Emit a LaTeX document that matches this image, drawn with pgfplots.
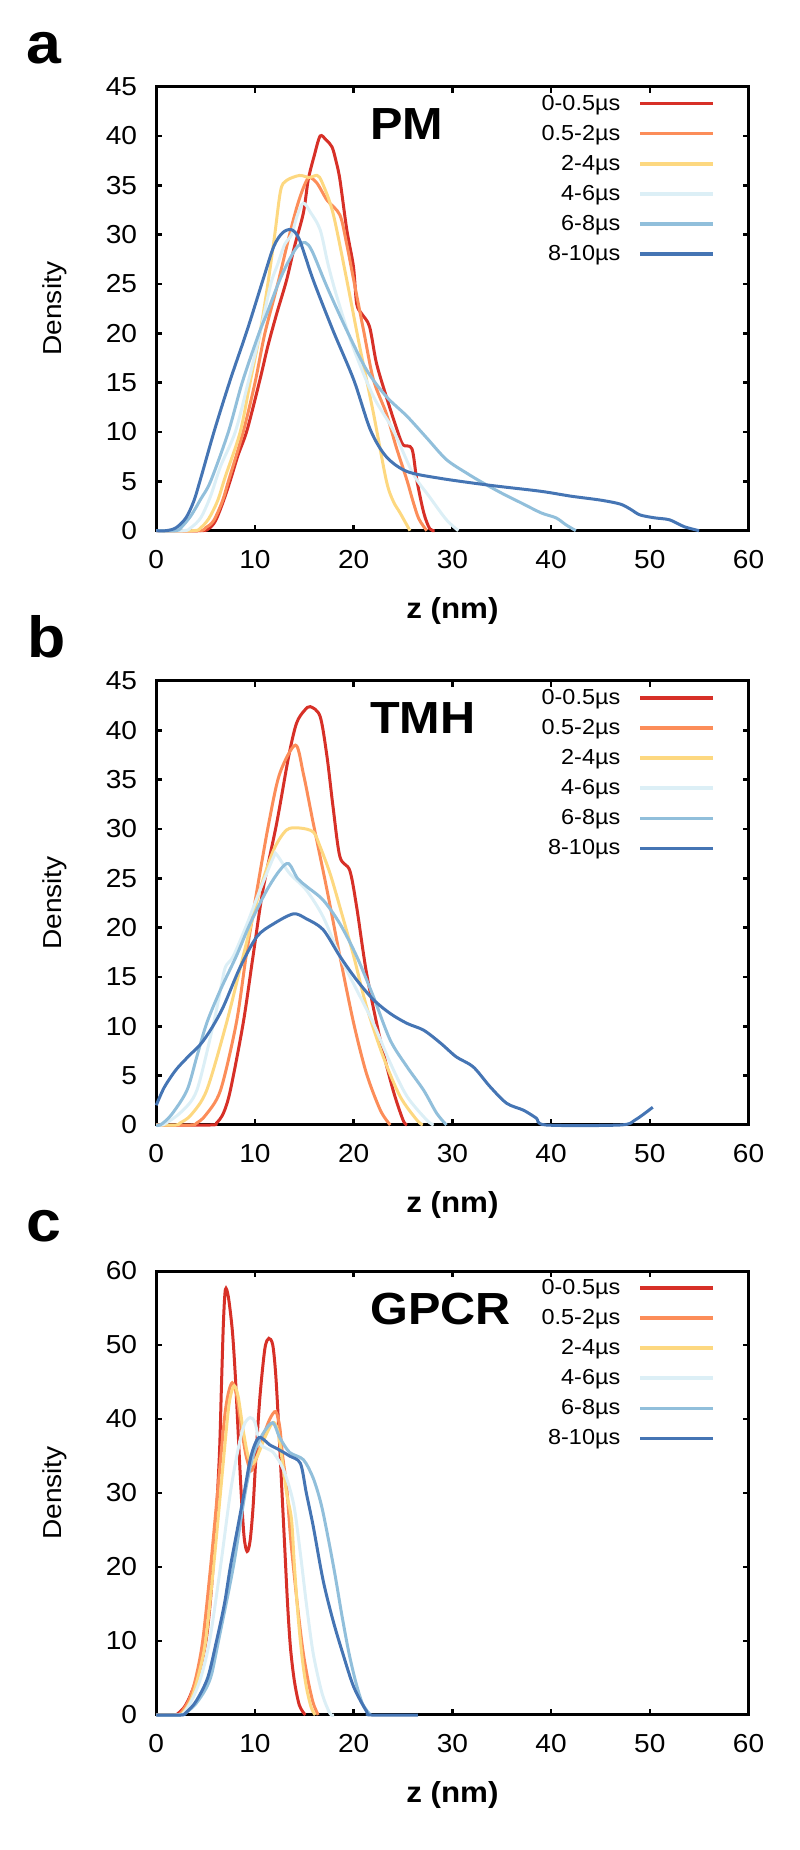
\documentclass[border=0pt]{standalone}
\usepackage{fontspec}
\setmainfont{Liberation Sans}[FakeStretch=1.08]
\usepackage{pgfplots}
\pgfplotsset{compat=1.18}
\definecolor{cA}{HTML}{D73027}
\definecolor{cB}{HTML}{FC8D59}
\definecolor{cC}{HTML}{FDD880}
\definecolor{cD}{HTML}{DCEFF6}
\definecolor{cE}{HTML}{91BFDB}
\definecolor{cF}{HTML}{4575B4}
\tikzset{ttl/.style={anchor=west, inner sep=0pt, font=\bfseries\fontsize{45}{50}\selectfont}}
\pgfplotsset{
  panel/.style={
    scale only axis, width=592.2pt, height=444pt, anchor=south west,
    xmin=0, xmax=60, xtick={0,10,20,30,40,50,60},
    clip=false,
    axis line style={line width=3pt},
    every tick/.style={black, line width=2.5pt},
    major tick length=6pt, tick align=inside,
    /pgf/number format/assume math mode=true,
    tick label style={font=\fontsize{26}{30}\selectfont, inner sep=0pt},
    xticklabel style={anchor=center, yshift=-28.5pt},
    yticklabel style={anchor=east, xshift=-19pt},
    xlabel={z (nm)}, ylabel={Density},
    xlabel style={at={(axis description cs:0.5,-0.180)}, anchor=center, font=\bfseries\fontsize{29}{34}\selectfont},
    ylabel style={at={(axis description cs:-0.1722,0.5)}, anchor=center, font=\fontsize{26}{30}\selectfont},
    legend style={draw=none, fill=none, at={(axis description cs:0.9434,0.9815)}, anchor=north east,
      inner sep=0pt, font=\fontsize{21.7}{25}\selectfont, row sep=10.1pt, column sep=18pt,
      nodes={inner sep=0pt, text height=15pt, text depth=5pt}},
    legend cell align=right, legend plot pos=right,
    legend image code/.code={\path (0pt,0pt) (73pt,0pt); \draw[##1, line width=3.5pt] (0pt,1.5pt) -- (73pt,1.5pt);},
    every axis plot/.append style={line width=3pt, smooth, tension=0.5, no marks},
  },
}
\begin{document}
\begin{tikzpicture}
\path[use as bounding box] (0,0) rectangle (800pt,1850pt);
% ---------------- panel a ----------------
\begin{axis}[panel, at={(156.3pt,1319.3pt)}, ymin=0, ymax=45, ytick={0,5,...,45}]
\addplot[cA] coordinates {(0,0)(4.5,0)(5.3,0.2)(6,1)(6.8,3)(7.5,5.1)(8.3,7.7)(9.2,10.2)(10.5,15.3)(11.3,18.7)(12.2,22)(13.2,25.4)(14.0,28.8)(14.9,32.2)(15.4,35.6)(16,38)(16.6,40)(17.2,39.6)(17.8,38.9)(18.2,37.5)(18.6,35.6)(19.3,30.5)(19.97,26.8)(20.3,23)(20.8,22)(21.6,20.7)(22.3,17)(23.3,13.6)(24.4,10.2)(25,8.7)(25.9,8.3)(26.4,5.1)(27.1,1.8)(27.7,0.2)(28.2,0)};
\addplot[cB] coordinates {(0,0)(4.3,0)(5,0.3)(5.8,1)(6.7,3)(7.3,5)(8.8,10)(10,15)(11,20)(12.3,25)(13.5,30)(14.3,33)(15,35)(15.5,35.8)(16.3,35.2)(17.3,33.5)(18.6,32)(19.3,29)(20,25.4)(21,20.3)(22,15.3)(23.3,11.9)(24.3,8.5)(25.4,5.1)(26,3)(26.6,1.2)(27.4,0)};
\addplot[cC] coordinates {(0,0)(3.8,0)(4.5,0.3)(5.3,1.2)(6.2,3)(7,5.5)(8.5,10)(9.5,15)(10.5,20)(11.3,25)(12,30)(12.6,34.5)(13.2,35.5)(14.5,36)(15.5,35.8)(16.3,36)(16.8,35.3)(17.9,32.2)(19.3,25.4)(20.6,18.7)(22,11.9)(23.3,5.1)(24,3)(24.7,1.8)(25.7,0)};
\addplot[cD] coordinates {(0,0)(2.8,0)(3.5,0.3)(4.5,1.3)(5.5,3.5)(6.5,6.5)(8,10)(9.3,15)(10.5,20)(11.6,25)(12.3,27)(13,29)(13.7,30)(14.3,32)(14.9,33.2)(15.6,32.3)(16.6,30.5)(17.4,27)(18.3,23.7)(19.9,18.7)(22,13.6)(24,10.2)(26,5.8)(27.7,3.4)(29.4,1.1)(30.6,0)};
\addplot[cE] coordinates {(0,0)(2,0)(2.5,0.3)(3.5,1.5)(4.5,3.2)(5.5,5)(7.3,10)(8.7,15)(10.4,20)(11.2,22)(12.5,25.4)(13.5,27.5)(14.3,28.8)(15.1,29.2)(15.8,28.3)(17.3,24.7)(19.3,20.3)(21.3,16.3)(23.3,13.6)(25.4,11.6)(27.4,9.4)(29.4,7.2)(31.5,5.8)(33,4.9)(35,3.8)(37,2.8)(39,1.8)(40.5,1.3)(41.5,0.6)(42.5,0)};
\addplot[cF] coordinates {(0,0)(1,0)(2,0.3)(3,1.3)(3.8,3)(4.5,5.3)(5.9,10.2)(7.5,15.3)(9.2,20.3)(10.8,25.4)(11.9,28.8)(12.8,30.2)(13.7,30.5)(14.5,29.5)(15.9,25.4)(17.9,20.3)(20,15.3)(21.7,10.2)(23.3,7.5)(25.4,6)(28.8,5.3)(33.8,4.6)(38.9,4)(42,3.5)(45,3.1)(47,2.7)(48,2.2)(49,1.6)(50.5,1.3)(52,1.1)(53.5,0.4)(55,0)};
\legend{0-0.5µs,0.5-2µs,2-4µs,4-6µs,6-8µs,8-10µs}
\node[ttl] at (axis description cs:0.361,0.9155) {PM};
\end{axis}
% ---------------- panel b ----------------
\begin{axis}[panel, at={(156.3pt,725pt)}, ymin=0, ymax=45, ytick={0,5,...,45}]
\addplot[cA] coordinates {(0,0)(5.5,0)(6.1,0.2)(6.8,1.2)(7.5,3.5)(8.8,10.3)(9.8,17.1)(10.8,23.8)(12.2,30.6)(13.4,37.3)(14.2,40.7)(15,42)(15.6,42.4)(16.6,41.4)(17.3,37.3)(17.9,32.3)(18.6,27.2)(19.6,25.8)(20.3,22.1)(21.3,15.4)(22.7,8.6)(24,3.5)(25,0.5)(25.4,0)};
\addplot[cB] coordinates {(0,0)(3.5,0)(4.1,0.2)(5,1)(6.5,3.5)(8.1,10.3)(9.1,17.1)(10.2,23.8)(11.4,30.6)(12.5,35.6)(14.1,38.5)(14.9,35.6)(15.9,30.6)(17.3,23.8)(18.6,17.1)(20,10.3)(21.3,5.2)(22.7,1.5)(23.7,0)};
\addplot[cC] coordinates {(0,0)(2,0)(2.4,0.2)(3.5,1)(5.1,3.5)(7.1,10.3)(8.8,17.1)(10.5,23.8)(11.9,27.9)(13.2,29.9)(14.5,30.1)(15.9,29.7)(16.6,28.2)(17.6,25.5)(18.6,22.1)(20,17.1)(21.3,12)(23,6.9)(24.7,2.9)(26.4,0.5)(27,0)};
\addplot[cD] coordinates {(0,0)(0.6,0)(1,0.2)(2.5,1.3)(4.1,3.5)(5.8,10.3)(6.5,13.7)(7,16)(7.8,17.1)(9.2,20.4)(10.5,23.8)(11.9,27.2)(12.2,27.4)(13.5,25.5)(15.2,23.8)(16.9,21.1)(18.6,17.1)(20.3,13.7)(22,10.3)(23.7,6.3)(25.4,2.9)(27.4,0.5)(28.1,0)};
\addplot[cE] coordinates {(0,0)(0.4,0)(1.5,1)(3.1,3.5)(4.1,6.9)(5.1,10.3)(6.5,13.7)(8.1,17.1)(9.5,20.4)(11.2,23.8)(12.5,25.8)(13.4,26.5)(14.3,25)(15.2,24.2)(16.9,22.8)(18.6,20.4)(20.3,17.1)(22,13)(23.7,8.6)(25.4,5.9)(27.1,3.5)(28.4,1.2)(29.4,0)};
\addplot[cF] coordinates {(0,2)(0.8,3.8)(2,5.6)(3.3,7)(4.5,8.2)(5.6,9.8)(6.8,12)(8.5,16)(10.2,19.1)(11.9,20.4)(13.9,21.4)(15.2,20.9)(16.9,19.8)(18.6,17.1)(20.3,14.7)(22,12.7)(23.7,11.3)(25.4,10.3)(27.1,9.6)(28.8,8.3)(30.4,6.9)(32.1,5.9)(33.8,3.9)(35.5,2.2)(37.2,1.5)(38.5,0.7)(39.5,0)(47,0)(48.5,0.5)(50.3,1.8)};
\legend{0-0.5µs,0.5-2µs,2-4µs,4-6µs,6-8µs,8-10µs}
\node[ttl] at (axis description cs:0.361,0.9155) {TMH};
\end{axis}
% ---------------- panel c ----------------
\begin{axis}[panel, at={(156.3pt,135pt)}, ymin=0, ymax=60, ytick={0,10,...,60}]
\addplot[cA] coordinates {(0,0)(1.8,0)(2.1,0.1)(2.8,1)(3.4,2.5)(4.4,6.1)(5.1,10.6)(5.6,17.3)(6.05,26.4)(6.4,35.4)(6.6,44.4)(6.8,53)(7.0,57.5)(7.3,56.5)(7.7,52)(8.0,46)(8.3,38)(8.6,30)(8.9,24)(9.2,22.1)(9.5,23.5)(9.8,28)(10.1,35)(10.5,43)(11,49.5)(11.4,50.9)(11.8,50)(12.1,46)(12.4,39)(12.7,31)(13,23)(13.3,15)(13.6,9)(14,4.5)(14.5,1.3)(15.1,0)};
\addplot[cB] coordinates {(0,0)(2,0)(2.5,0.3)(3.3,2)(4,5)(4.7,10)(5.5,20)(6.2,30)(6.9,40)(7.3,43.5)(7.7,44.9)(8.1,43.5)(8.6,39)(9.1,35)(9.6,33)(10.1,34.5)(10.8,37.5)(11.5,40)(12.1,41)(12.5,39)(12.8,35)(13.2,30.9)(13.6,24)(14.1,17.3)(14.5,12.5)(14.9,8.3)(15.4,4.5)(15.9,1.6)(16.4,0)};
\addplot[cC] coordinates {(0,0)(2.2,0)(2.7,0.3)(3.5,2)(4.2,5)(5,10)(5.8,20)(6.5,30)(7.2,40)(7.5,43)(7.9,44.5)(8.3,43)(8.8,38.5)(9.3,35)(9.8,34)(10.4,35.5)(11,37.5)(11.8,39.5)(12.3,38.5)(12.8,34)(13.2,30)(13.7,26.4)(14,20)(14.4,12.8)(14.8,7.5)(15.2,3.8)(15.7,1)(16.1,0)};
\addplot[cD] coordinates {(0,0)(2.3,0)(2.8,0.3)(3.6,2)(4.5,5)(5.4,10)(6.5,20)(7.5,30)(8.3,36)(8.9,39.2)(9.5,40.2)(10,39.5)(10.5,36.7)(11.2,36)(11.9,35.4)(12.9,33.1)(13.9,28.6)(14.6,21.8)(15.2,15.1)(15.9,8.3)(16.8,2.9)(17.6,0.2)(18,0)};
\addplot[cE] coordinates {(0,0)(2.5,0)(3,0.3)(4,1.5)(5,3.5)(5.6,5.5)(6.3,10)(7.8,20)(9,30)(9.8,35)(10.8,38)(11.8,39.5)(12.5,37.5)(13.5,35.5)(14.9,34.5)(15.9,32)(16.7,28.5)(17.4,24)(18.1,19)(18.8,13.5)(19.5,8.5)(20.2,4.5)(20.9,1.5)(21.7,0)};
\addplot[cF] coordinates {(0,0)(2.5,0)(3,0.3)(4,1.8)(5.2,5)(6.1,10)(6.9,15)(7.5,20)(8.2,25)(8.9,30)(9.6,35)(10.4,37.5)(11.5,36.5)(12.5,35.8)(13.5,35)(14.6,34)(15.2,30)(15.9,25.5)(16.9,18.2)(17.9,12.8)(18.9,8.3)(20,3.8)(21.3,0.5)(21.8,0)(26.5,0)};
\legend{0-0.5µs,0.5-2µs,2-4µs,4-6µs,6-8µs,8-10µs}
\node[ttl] at (axis description cs:0.361,0.9155) {GPCR};
\end{axis}
% panel letters
\node[anchor=base west, inner sep=0pt, font=\bfseries\fontsize{58}{62}\selectfont] at (26pt,1786pt) {a};
\node[anchor=base west, inner sep=0pt, font=\bfseries\fontsize{58}{62}\selectfont] at (27pt,1192pt) {b};
\node[anchor=base west, inner sep=0pt, font=\bfseries\fontsize{58}{62}\selectfont] at (26pt,608pt) {c};
\end{tikzpicture}
\end{document}
